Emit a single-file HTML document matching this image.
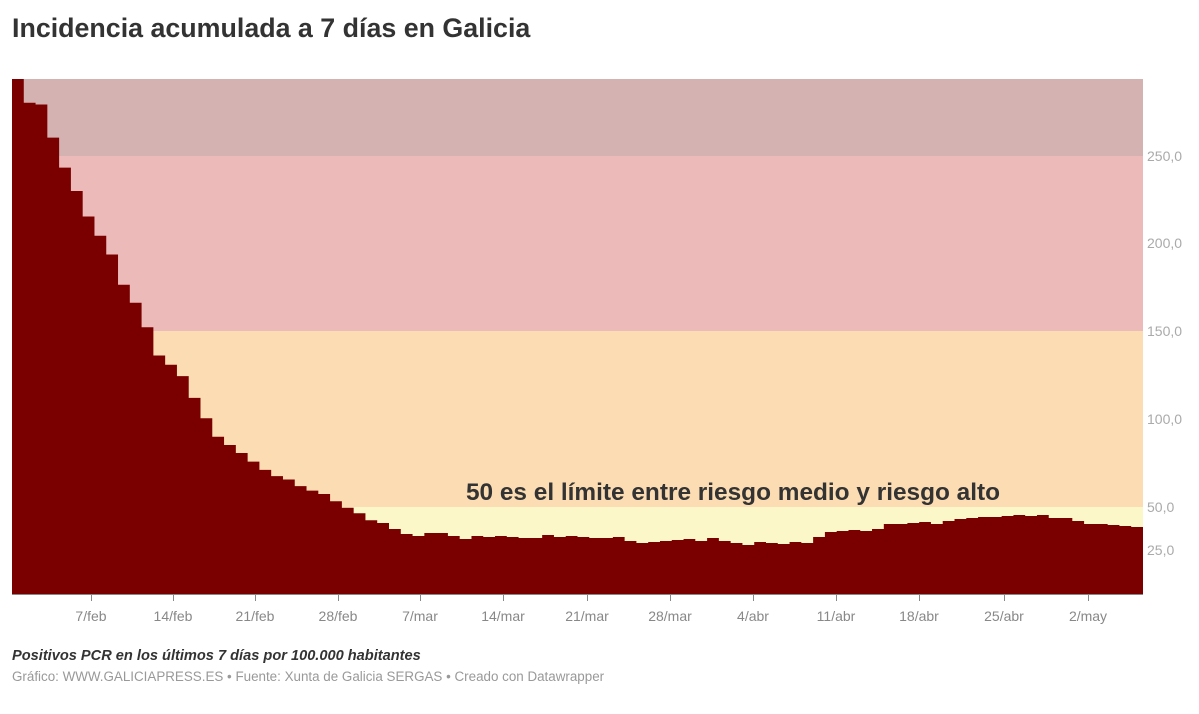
<!DOCTYPE html>
<html><head><meta charset="utf-8"><style>
body{margin:0;background:#fff;width:1199px;height:709px;overflow:hidden;font-family:"Liberation Sans",Arial,sans-serif}
</style></head><body>
<svg width="1199" height="709" xmlns="http://www.w3.org/2000/svg" font-family="Liberation Sans, Arial, sans-serif">
<text x="12" y="37" font-size="26.8" font-weight="bold" fill="#333">Incidencia acumulada a 7 días en Galicia</text>
<rect x="12" y="79" width="1131" height="77" fill="#d4b2b1"/>
<rect x="12" y="156" width="1131" height="175" fill="#edbaba"/>
<rect x="12" y="331" width="1131" height="176" fill="#fcdcb3"/>
<rect x="12" y="507" width="1131" height="87" fill="#fcf7c9"/>
<path id="area" fill="#7a0000" d=""/>
<line x1="12" y1="594.5" x2="1143" y2="594.5" stroke="#888" stroke-width="1"/>
<g id="ticks" stroke="#888" stroke-width="1"></g>
<g font-size="14" fill="#888" text-anchor="middle" id="xl"></g>
<g font-size="14" fill="#aaa">
<text x="1147" y="161">250,0</text>
<text x="1147" y="248">200,0</text>
<text x="1147" y="336">150,0</text>
<text x="1147" y="424">100,0</text>
<text x="1147" y="512">50,0</text>
<text x="1147" y="555">25,0</text>
</g>
<text x="733" y="500" font-size="24.4" font-weight="bold" fill="#333" text-anchor="middle">50 es el límite entre riesgo medio y riesgo alto</text>
<text x="12" y="660" font-size="14.6" font-weight="bold" font-style="italic" fill="#333">Positivos PCR en los últimos 7 días por 100.000 habitantes</text>
<text x="12" y="681" font-size="13.4" fill="#999">Gráfico: WWW.GALICIAPRESS.ES • Fuente: Xunta de Galicia SERGAS • Creado con Datawrapper</text>
</svg>
<script>
var ys=[79,102.8,104.5,137.6,167.6,191,216.5,235.8,254.5,284.8,302.7,327.2,355.5,364.8,376.1,397.9,418.2,436.8,445,453,461.6,469.9,476.1,479.5,486.1,490.6,494,501.3,507.8,513.3,520.2,523,
529,534,536,533,533,536,539,536,537,536,537,538,538,535,537,536,537,538,538,537,541,543,542,541,540,539,541,538,541,543,545,542,
543,544,542,543,537,532,531,530,531,529,524,524,523,522,524,521,519,518,517,517,516,515,516,515,518,518,521,524,524,525,526,527];
var n=ys.length,w=1131/n,d="M12 594";
for(var i=0;i<n;i++){var x0=12+i*w,x1=12+(i+1)*w;d+=" L"+x0.toFixed(2)+" "+ys[i]+" L"+x1.toFixed(2)+" "+ys[i];}
d+=" L1143 594 Z";
document.getElementById("area").setAttribute("d",d);
var labs=["7/feb","14/feb","21/feb","28/feb","7/mar","14/mar","21/mar","28/mar","4/abr","11/abr","18/abr","25/abr","2/may"];
var xs=[91,173,255,338,420,503,587,670,753,836,919,1004,1088];
var t="",l="";
for(var j=0;j<xs.length;j++){t+='<line x1="'+xs[j]+'.5" y1="595" x2="'+xs[j]+'.5" y2="601"/>';l+='<text x="'+xs[j]+'" y="621">'+labs[j]+'</text>';}
document.getElementById("ticks").innerHTML=t;
document.getElementById("xl").innerHTML=l;
</script>
</body></html>
